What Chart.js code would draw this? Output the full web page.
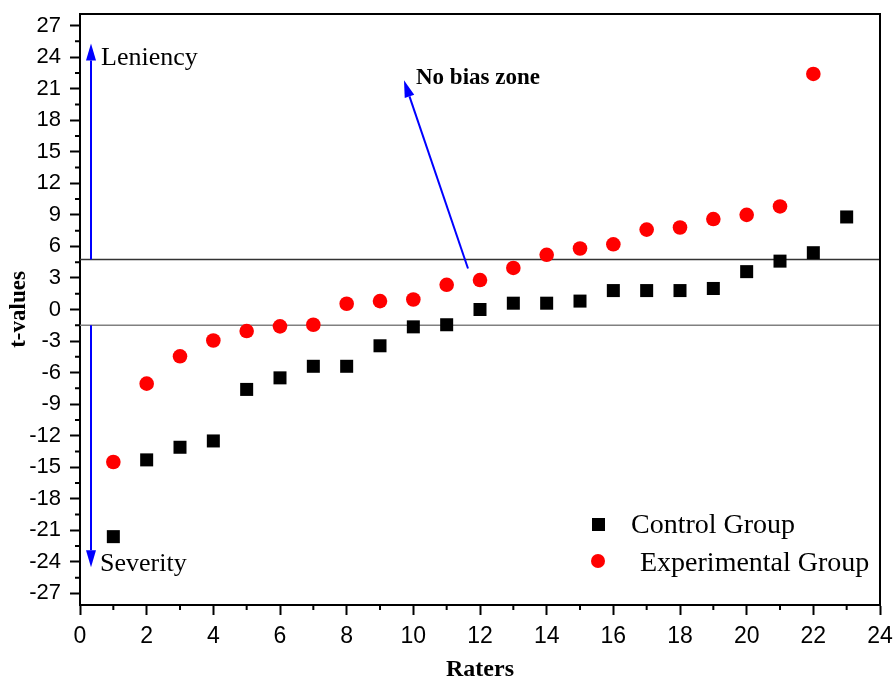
<!DOCTYPE html>
<html>
<head>
<meta charset="utf-8">
<script src="https://cdn.jsdelivr.net/npm/chart.js@4/dist/chart.umd.min.js"></script>
<style>
  html, body { margin: 0; padding: 0; background: #fff; }
  #wrap { width: 893px; height: 682px; }
</style>
</head>
<body>
<div id="wrap"><canvas id="chart"></canvas></div>
<script>
// raters on the x axis
const controlRaters = [1, 2, 3, 4, 5, 6, 7, 8, 9, 10, 11, 12, 13, 14, 15, 16, 17, 18, 19, 20, 21, 22, 23];
const controlValues = [-21.6, -14.3, -13.1, -12.5, -7.6, -6.5, -5.4, -5.4, -3.45, -1.65, -1.45, 0, 0.6, 0.6, 0.8, 1.8, 1.8, 1.8, 2.0, 3.6, 4.6, 5.4, 8.8];

const expRaters = [1, 2, 3, 4, 5, 6, 7, 8, 9, 10, 11, 12, 13, 14, 15, 16, 17, 18, 19, 20, 21, 22];
const expValues = [-14.5, -7.05, -4.45, -2.95, -2.05, -1.6, -1.45, 0.55, 0.8, 0.95, 2.35, 2.8, 3.95, 5.2, 5.8, 6.2, 7.6, 7.8, 8.6, 9.0, 9.8, 22.4];

// no bias zone limits
const zoneUpper = 4.75;
const zoneLower = -1.5;

const xTicks = [0, 2, 4, 6, 8, 10, 12, 14, 16, 18, 20, 22, 24];
const yTicks = [-27, -24, -21, -18, -15, -12, -9, -6, -3, 0, 3, 6, 9, 12, 15, 18, 21, 24, 27];

const SERIF = "'Liberation Serif', 'Times New Roman', serif";
const SANS = "'Liberation Sans', Arial, sans-serif";
const BLUE = "#0000ff";

function toPoints(xs, ys) {
  return xs.map((x, i) => ({ x: x, y: ys[i] }));
}

function arrow(ctx, x1, y1, x2, y2) {
  const ang = Math.atan2(y2 - y1, x2 - x1);
  const headLen = 17, headW = 5;
  const bx = x2 - headLen * Math.cos(ang);
  const by = y2 - headLen * Math.sin(ang);
  ctx.strokeStyle = BLUE;
  ctx.fillStyle = BLUE;
  ctx.lineWidth = 2;
  ctx.beginPath();
  ctx.moveTo(x1, y1);
  ctx.lineTo(bx, by);
  ctx.stroke();
  ctx.beginPath();
  ctx.moveTo(x2, y2);
  ctx.lineTo(bx + headW * Math.sin(ang), by - headW * Math.cos(ang));
  ctx.lineTo(bx - headW * Math.sin(ang), by + headW * Math.cos(ang));
  ctx.closePath();
  ctx.fill();
}

// frame, minor ticks, arrows, labels and the legend
const extras = {
  id: "extras",
  afterDraw(chart) {
    const ctx = chart.ctx;
    const xs = chart.scales.x, ys = chart.scales.y;
    const a = chart.chartArea;
    ctx.save();

    ctx.strokeStyle = "#000";
    ctx.lineWidth = 2;
    ctx.beginPath();
    ctx.moveTo(a.left - 1, a.top);
    ctx.lineTo(a.right, a.top);
    ctx.lineTo(a.right, a.bottom + 1);
    ctx.stroke();

    ctx.lineWidth = 2;
    ctx.beginPath();
    for (let v = 1; v < 24; v += 2) {
      const px = xs.getPixelForValue(v);
      ctx.moveTo(px, a.bottom);
      ctx.lineTo(px, a.bottom + 5);
    }
    for (let v = -25.5; v < 27; v += 3) {
      const py = ys.getPixelForValue(v);
      ctx.moveTo(a.left, py);
      ctx.lineTo(a.left - 5, py);
    }
    ctx.stroke();

    const ax = xs.getPixelForValue(0.33);
    arrow(ctx, ax, ys.getPixelForValue(zoneUpper), ax, ys.getPixelForValue(25.3));
    arrow(ctx, ax, ys.getPixelForValue(zoneLower), ax, ys.getPixelForValue(-24.5));
    arrow(ctx, xs.getPixelForValue(11.64), ys.getPixelForValue(3.9),
      xs.getPixelForValue(9.72), ys.getPixelForValue(21.8));

    ctx.fillStyle = "#000";
    ctx.textBaseline = "alphabetic";
    ctx.textAlign = "left";
    ctx.font = "26px " + SERIF;
    ctx.fillText("Leniency", 101, 65);
    ctx.fillText("Severity", 100, 571);
    ctx.font = "bold 23px " + SERIF;
    ctx.fillText("No bias zone", 416, 84);

    // legend
    ctx.fillStyle = "#000";
    ctx.fillRect(592, 518, 13, 13);
    ctx.fillStyle = "#ff0000";
    ctx.beginPath();
    ctx.arc(598, 561, 7, 0, Math.PI * 2);
    ctx.fill();
    ctx.fillStyle = "#000";
    ctx.font = "28px " + SERIF;
    ctx.fillText("Control Group", 631, 533);
    ctx.fillText("Experimental Group", 640, 571);

    ctx.restore();
  }
};

new Chart(document.getElementById("chart"), {
  type: "scatter",
  data: {
    datasets: [
      {
        label: "Control Group",
        data: toPoints(controlRaters, controlValues),
        pointStyle: "rect",
        pointRadius: 9.2,
        pointHoverRadius: 9.2,
        backgroundColor: "#000",
        borderWidth: 0,
      },
      {
        label: "Experimental Group",
        data: toPoints(expRaters, expValues),
        pointStyle: "circle",
        pointRadius: 7.3,
        pointHoverRadius: 7.3,
        backgroundColor: "#ff0000",
        borderWidth: 0,
      },
      {
        label: "upper",
        data: [{ x: 0, y: zoneUpper }, { x: 24, y: zoneUpper }],
        showLine: true,
        pointRadius: 0,
        borderColor: "#333",
        borderWidth: 1.5,
      },
      {
        label: "lower",
        data: [{ x: 0, y: zoneLower }, { x: 24, y: zoneLower }],
        showLine: true,
        pointRadius: 0,
        borderColor: "#808080",
        borderWidth: 1.5,
      },
    ],
  },
  options: {
    responsive: true,
    maintainAspectRatio: false,
    animation: false,
    layout: { padding: { top: 14, right: 13, left: 0, bottom: 0 } },
    plugins: { legend: { display: false }, tooltip: { enabled: false } },
    scales: {
      x: {
        type: "linear",
        min: 0,
        max: 24,
        afterBuildTicks: (s) => { s.ticks = xTicks.map((v) => ({ value: v })); },
        afterFit: (s) => { s.height = 77; s.paddingLeft = 0; s.paddingRight = 0; },
        border: { color: "#000", width: 2 },
        grid: { drawOnChartArea: false, tickLength: 10, tickWidth: 2, tickColor: "#000" },
        ticks: { color: "#000", font: { family: SANS, size: 23 }, padding: 8, maxRotation: 0 },
        title: {
          display: true,
          text: "Raters",
          color: "#000",
          font: { family: SERIF, size: 24, weight: "bold", lineHeight: 1 },
          padding: { top: 0, bottom: 0 },
        },
      },
      y: {
        min: -28.1,
        max: 28.1,
        afterBuildTicks: (s) => { s.ticks = yTicks.map((v) => ({ value: v })); },
        afterFit: (s) => { s.width = 80; s.paddingTop = 0; s.paddingBottom = 0; },
        border: { color: "#000", width: 2 },
        grid: { drawOnChartArea: false, tickLength: 10, tickWidth: 2, tickColor: "#000" },
        ticks: { color: "#000", font: { family: SANS, size: 22 }, padding: 9 },
        title: {
          display: true,
          text: "t-values",
          color: "#000",
          font: { family: SERIF, size: 23, weight: "bold", lineHeight: 1 },
          padding: { top: 8, bottom: 0 },
        },
      },
    },
  },
  plugins: [extras],
});
</script>
</body>
</html>
